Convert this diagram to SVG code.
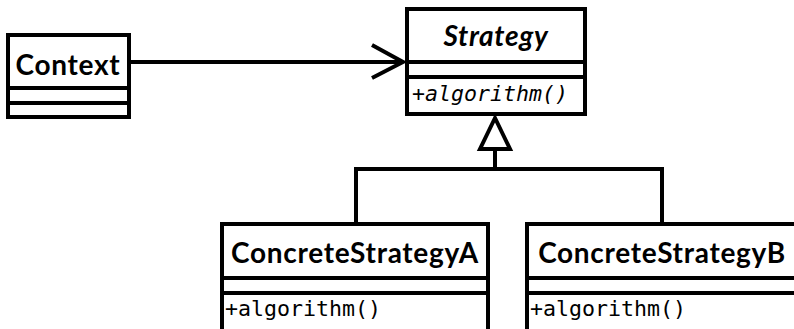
<svg xmlns="http://www.w3.org/2000/svg" width="794" height="329" viewBox="0 0 794 329">
  <style>
    .box { fill: #fff; stroke: #000; stroke-width: 4; }
    .sep { stroke: #000; stroke-width: 4; }
    .name { font-family: Lato, "Open Sans", sans-serif; font-weight: bold; font-size: 28px; letter-spacing: 0.7px; fill: #000; text-anchor: middle; }
    .abstract { font-style: italic; }
    .op { font-family: "DejaVu Sans Mono", monospace; font-size: 21.6px; fill: #000; }
    .edge { fill: none; stroke: #000; stroke-width: 4; }
  </style>
  <rect width="794" height="329" fill="#fff"/>

  <g id="connectors">
    <!-- association Context -> Strategy -->
    <line class="edge" x1="129" y1="62" x2="403" y2="62"/>
    <polyline class="edge" points="372,45 403,62 372,78"/>
    <!-- generalization tree -->
    <polyline class="edge" points="356,224 356,169 662,169 662,224"/>
    <line class="edge" x1="495" y1="169" x2="495" y2="149"/>
    <polygon class="edge" points="495,118 480,149 510,149" fill="#fff"/>
  </g>

  <g id="context">
    <rect class="box" x="8" y="35" width="121" height="82"/>
    <line class="sep" x1="8" y1="88" x2="129" y2="88"/>
    <line class="sep" x1="8" y1="103" x2="129" y2="103"/>
    <text class="name" x="68" y="75">Context</text>
  </g>

  <g id="strategy">
    <rect class="box" x="407" y="9" width="178" height="105"/>
    <line class="sep" x1="407" y1="62" x2="585" y2="62"/>
    <line class="sep" x1="407" y1="77" x2="585" y2="77"/>
    <text class="name abstract" x="496" y="46">Strategy</text>
    <text class="op abstract" x="412" y="101">+algorithm()</text>
  </g>

  <g id="concrete-a">
    <rect class="box" x="222" y="224" width="266" height="120"/>
    <line class="sep" x1="222" y1="278" x2="488" y2="278"/>
    <line class="sep" x1="222" y1="293" x2="488" y2="293"/>
    <text class="name" x="355" y="263">ConcreteStrategyA</text>
    <text class="op" x="225" y="316">+algorithm()</text>
  </g>

  <g id="concrete-b">
    <rect class="box" x="527" y="224" width="300" height="120"/>
    <line class="sep" x1="527" y1="278" x2="827" y2="278"/>
    <line class="sep" x1="527" y1="293" x2="827" y2="293"/>
    <text class="name" x="662" y="263">ConcreteStrategyB</text>
    <text class="op" x="530" y="316">+algorithm()</text>
  </g>
</svg>
